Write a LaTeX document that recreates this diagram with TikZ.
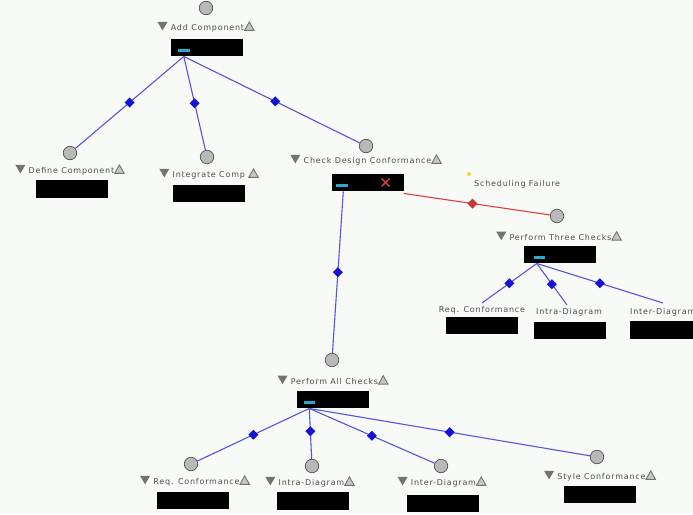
\documentclass[tikz,border=0pt]{standalone}
\usepackage{fontspec}
\setmainfont{DejaVu Sans}
\newfontfamily\lblfam[LetterSpace=10]{DejaVu Sans}
\usetikzlibrary{shapes.geometric}
\definecolor{bgc}{RGB}{248,250,248}
\definecolor{lnblue}{RGB}{85,85,225}
\definecolor{dmblue}{RGB}{20,20,210}
\definecolor{iconc}{RGB}{40,170,210}
\definecolor{redln}{RGB}{225,60,60}
\definecolor{txtc}{RGB}{75,75,75}
\newcommand\tdown{\tikz[baseline=-0.5pt]\fill[gray!90!black] (0pt,8.5pt)--(10pt,8.5pt)--(5pt,0pt)--cycle;}
\newcommand\tup{\tikz[baseline=-0.5pt]\draw[gray!90!black,fill=gray!45,line width=0.9pt] (0pt,0pt)--(9.5pt,0pt)--(4.75pt,8.5pt)--cycle;}
\tikzset{
  port/.style={circle, draw=gray!65!black, fill=gray!55, minimum size=13.5pt, inner sep=0pt, line width=0.7pt},
  lbl/.style={font=\lblfam\fontsize{8}{9.5}\selectfont, text=txtc, inner sep=1pt},
  blk/.style={fill=black, minimum width=72pt, minimum height=17.5pt, inner sep=0pt},
  link/.style={draw=lnblue, line width=1.1pt},
  redlink/.style={draw=redln, line width=1.1pt},
  dia/.style={diamond, fill=dmblue, minimum size=10.5pt, inner sep=0pt},
  rdia/.style={diamond, fill=redln!90!black, minimum size=10.5pt, inner sep=0pt},
  icon/.style={fill=iconc}
}
\begin{document}
\begin{tikzpicture}[x=1pt,y=-1pt]
\fill[bgc] (0,0) rectangle (693,514);
\clip (0,0) rectangle (693,514);

% Add Component
\node[port] (addP) at (206,8) {};
\node[lbl] (addL) at (206,27) {\tdown\ Add Component\tup};
\node[blk] (addB) at (207,47.5) {};
\fill[icon] ([xshift=7pt,yshift=-1.5pt]addB.west) rectangle ++(12,3);

% Define Component
\node[port] (defP) at (70,153) {};
\node[lbl] (defL) at (70,170) {\tdown\ Define Component\tup};
\node[blk] (defB) at (71.5,189) {};

% Integrate Comp
\node[port] (intP) at (207,157) {};
\node[lbl] (intL) at (209,174) {\tdown\ Integrate Comp \tup};
\node[blk] (intB) at (209,193.5) {};

% Check Design Conformance
\node[port] (chkP) at (366,146) {};
\node[lbl] (chkL) at (366,160) {\tdown\ Check Design Conformance\tup};
\node[blk] (chkB) at (367.5,182.5) {};
\fill[icon] ([xshift=5pt,yshift=-1.5pt]chkB.west) rectangle ++(12,3);
\draw[redln, line width=1.4pt] ([xshift=-22pt,yshift=-4pt]chkB.east) -- ++(8,-8) ([xshift=-22pt,yshift=4pt]chkB.east) -- ++(8,8);

% Scheduling Failure
\fill[yellow!90!black] (469,174) circle (2);
\node[lbl, anchor=west] (schL) at (473,184) {Scheduling Failure};

% Perform Three Checks
\node[port] (p3P) at (557,216) {};
\node[lbl] (p3L) at (559,236) {\tdown\ Perform Three Checks\tup};
\node[blk] (p3B) at (560,254.5) {};
\fill[icon] ([xshift=10pt,yshift=-1.5pt]p3B.west) rectangle ++(11,3);

\node[lbl] (rq3L) at (482,310) {Req. Conformance};
\node[blk] (rq3B) at (481.5,325.5) {};
\node[lbl] (ia3L) at (569,312) {Intra-Diagram};
\node[blk] (ia3B) at (569.5,330.5) {};
\node[lbl, anchor=west] (ie3L) at (629,312) {Inter-Diagram};
\node[blk, anchor=west] (ie3B) at (630,330) {};
\coordinate (rq3C) at (482,303);
\coordinate (ia3C) at (567,305);
\coordinate (ie3C) at (663,303);

% Perform All Checks
\node[port] (paP) at (332,360) {};
\node[lbl] (paL) at (333,380) {\tdown\ Perform All Checks\tup};
\node[blk] (paB) at (332.5,399.5) {};
\fill[icon] ([xshift=8pt,yshift=-1.5pt]paB.west) rectangle ++(11,3);

\node[port] (rqP) at (191,464) {};
\node[lbl] (rqL) at (195,481) {\tdown\ Req. Conformance\tup};
\node[blk] (rqB) at (193,500.5) {};
\node[port] (iaP) at (312,466) {};
\node[lbl] (iaL) at (310,482) {\tdown\ Intra-Diagram\tup};
\node[blk] (iaB) at (312.5,501) {};
\node[port] (ieP) at (441,466) {};
\node[lbl] (ieL) at (442,482) {\tdown\ Inter-Diagram\tup};
\node[blk] (ieB) at (442.5,503.5) {};
\node[port] (stP) at (597,457) {};
\node[lbl] (stL) at (600,476) {\tdown\ Style Conformance\tup};
\node[blk] (stB) at (599.5,494.5) {};

% connectors
\draw[link] ([xshift=13pt]addB.south west) -- node[dia]{} (defP);
\draw[link] ([xshift=13pt]addB.south west) -- node[dia]{} (intP);
\draw[link] ([xshift=13pt]addB.south west) -- node[dia, pos=0.52]{} (chkP);
\draw[link] ([xshift=12pt]chkB.south west) -- node[dia]{} (paP);
\draw[redlink] ([yshift=-2pt]chkB.south east) -- node[rdia, pos=0.47]{} (p3P);
\draw[link] ([xshift=13pt]p3B.south west) -- node[dia]{} (rq3C);
\draw[link] ([xshift=13pt]p3B.south west) -- node[dia]{} (ia3C);
\draw[link] ([xshift=13pt]p3B.south west) -- node[dia, pos=0.5]{} (ie3C);
\draw[link] ([xshift=13pt]paB.south west) -- node[dia]{} (rqP);
\draw[link] ([xshift=13pt]paB.south west) -- node[dia, pos=0.45]{} (iaP);
\draw[link] ([xshift=13pt]paB.south west) -- node[dia]{} (ieP);
\draw[link] ([xshift=13pt]paB.south west) -- node[dia]{} (stP);
\end{tikzpicture}
\end{document}
